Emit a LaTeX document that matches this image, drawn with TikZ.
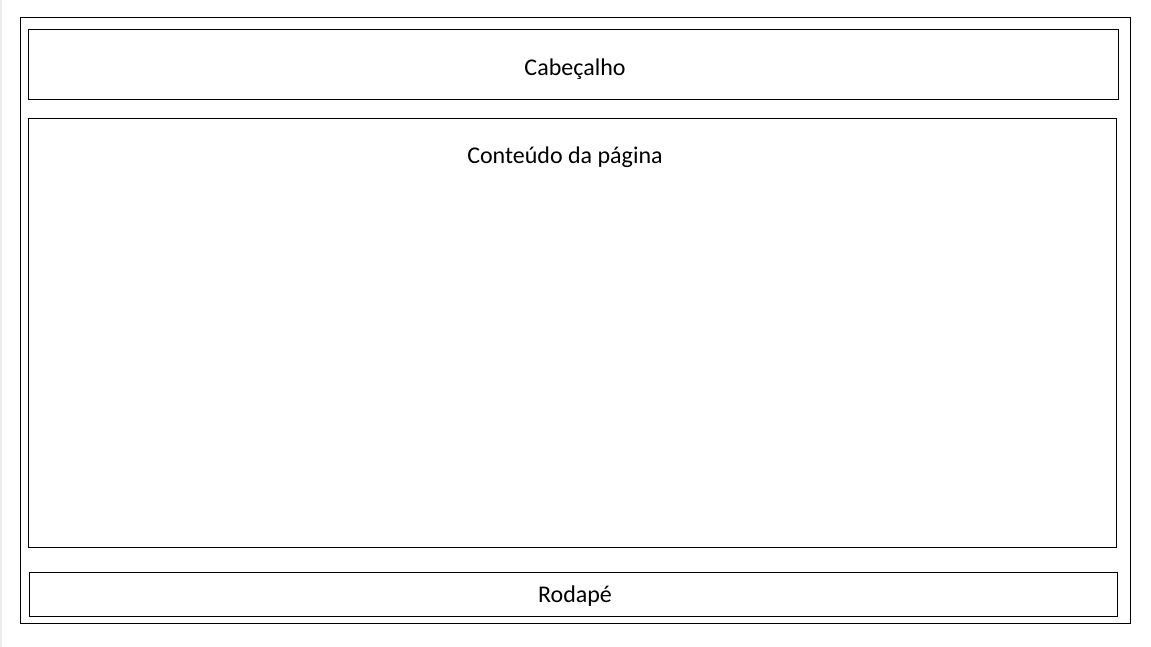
\documentclass[tikz,border=0pt]{standalone}
\usepackage{fontspec}
\setmainfont{Carlito}
\begin{document}
\begin{tikzpicture}[
    x=0.5pt,
    y=-0.5pt,
    line width=0.5pt,
    every node/.style={inner sep=0pt, outer sep=0pt, font=\fontsize{12}{14}\selectfont},
    caixa/.style={draw, rectangle}]

    \useasboundingbox (0,0) rectangle (1151,647);

    % Margin strip
    \fill[gray!15] (0,0) rectangle (2,647);

    % Page
    \node[caixa, minimum width=555pt, minimum height=303pt] (pagina) at (575.5, 320.5) {};

    % Header
    \node[caixa, minimum width=545pt, minimum height=35pt] (cabecalho) at (573.5, 64.5) {};
    \node (cabecalhoTxt) at (575, 69) {Cabeçalho};

    % Content
    \node[caixa, minimum width=544pt, minimum height=214.5pt] (conteudo) at (572.5, 333) {};
    \node (conteudoTxt) at (565, 157) {Conteúdo da página};

    % Footer
    \node[caixa, minimum width=544pt, minimum height=22pt] (rodape) at (573.5, 594.5) {};
    \node (rodapeTxt) at (575, 596) {Rodapé};
  \end{tikzpicture}
\end{document}
